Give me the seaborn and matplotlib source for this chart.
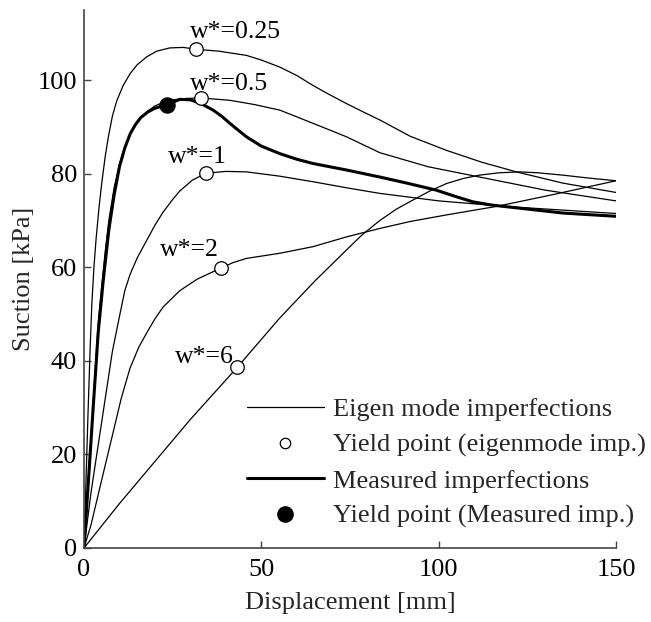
import numpy as np
import pandas as pd
import matplotlib
matplotlib.use("Agg")
import matplotlib.pyplot as plt
from matplotlib.lines import Line2D
import seaborn as sns

# ---------------- data ----------------
w025_x = [0, 1.1, 1.7, 2.2, 2.8, 3.4, 4.2, 5.0, 6.0, 6.9, 8.0, 9.2, 11.0, 13.0, 15.0, 17.7, 20.5, 24.2, 28.0, 31.7,
          38.0, 45.8, 50.0, 55.2, 60.0, 64.5, 69.0, 74.0, 78.5, 83.4, 92.0, 102.2, 112.0, 121.9, 135.0, 150.0]
w025_y = [0, 28, 42, 52, 60, 66, 72.5, 78, 83.8, 88, 92.3, 95.5, 98.8, 101.4, 103.3, 105.0, 106.2, 106.9, 107.0, 106.6,
          106.2, 105.3, 104.3, 102.8, 101.0, 98.9, 97.0, 95.0, 93.3, 91.5, 88.0, 85.0, 82.5, 80.4, 78.0, 76.0]

w05_x = [0, 1.0, 2.5, 4.0, 5.0, 6.0, 7.0, 8.5, 10.0, 11.5, 13.0, 14.5, 16.0, 18.0, 20.0, 22.5, 25.0, 29.0, 32.9,
         41.1, 48.0, 55.2, 64.5, 74.0, 83.4, 97.0, 111.5, 130.0, 150.0]
w05_y = [0, 12, 30, 48, 56, 63.5, 70, 77, 82, 85.8, 88.5, 90.5, 92, 93.4, 94.5, 95.3, 95.8, 96.1, 96.2,
         95.7, 94.8, 93.6, 90.8, 87.9, 84.5, 81.5, 79.3, 76.5, 74.2]

w1_x = [0, 2.0, 4.0, 6.0, 8.0, 10.0, 11.5, 13.0, 15.0, 17.7, 20.0, 22.3, 25.0, 27.0, 30.5, 34.3, 40.0, 45.8,
        55.0, 64.5, 74.0, 83.4, 100.0, 119.0, 150.0]
w1_y = [0, 12, 22, 32, 42, 49.5, 55, 58.5, 62, 65.8, 69, 71.8, 74.5, 76.3, 78.6, 80.1, 80.5, 80.4,
        79.5, 78.3, 77.0, 75.8, 74.2, 73.0, 71.5]

w2_x = [0, 2.0, 4.5, 8.3, 10.5, 13.0, 15.5, 17.7, 20.0, 22.3, 27.0, 32.0, 38.5, 42.0, 45.8, 55.2, 64.5, 74.0,
        83.4, 92.0, 102.2, 116.2, 132.0, 150.0]
w2_y = [0, 5, 13, 25, 32, 38.5, 43, 46, 49, 51.5, 55, 57.5, 59.8, 61.0, 61.9, 63.0, 64.4, 66.5,
        68.3, 69.8, 71.2, 73.0, 75.5, 78.5]

w6_x = [0, 10, 20, 30, 43.2, 55, 65, 74, 78.5, 83.4, 88, 92.8, 97.5, 102.2, 107, 111.5, 117, 122.8, 128, 135, 142, 150]
w6_y = [0, 9.5, 18.5, 27.5, 38.6, 49, 57, 63.7, 67.0, 70.0, 72.4, 74.4, 76.3, 77.9, 79.0, 79.7, 80.2, 80.4, 80.2, 79.7, 79.1, 78.5]

meas_x = [0, 1.0, 2.5, 4.0, 5.4, 7.0, 8.5, 10.0, 11.5, 13.0, 14.5, 16.0, 18.0, 20.0, 23.5, 27.0, 30.0, 33.0, 36.4,
          38.8, 41.1, 43.5, 45.8, 50.0, 55.2, 60.0, 64.5, 74.0, 83.4, 91.0, 99.3, 104.5, 109.6, 115.0, 120.9, 135.0, 150.0]
meas_y = [0, 11.5, 29, 46, 57, 68, 75.5, 81.5, 85.5, 88.5, 90.5, 92, 93.2, 94, 94.8, 95.9, 95.8, 95.0, 93.6,
          92.3, 90.8, 89.3, 87.9, 85.9, 84.3, 83.1, 82.2, 80.8, 79.3, 78.0, 76.5, 75.2, 74.0, 73.3, 72.8, 71.6, 70.9]

yield_labels = ["w*=0.25", "w*=0.5", "w*=1", "w*=2", "w*=6"]
yield_x = [31.7, 32.9, 34.3, 38.5, 43.2]
yield_y = [106.6, 96.2, 80.1, 59.8, 38.6]

meas_yield_x = [23.5]
meas_yield_y = [94.8]

x_ticks = [0, 50, 100, 150]
y_ticks = [0, 20, 40, 60, 80, 100]

# ---------------- style ----------------
sns.set_theme(style="ticks")
plt.rcParams["font.family"] = ["Liberation Serif", "DejaVu Serif"]

fig = plt.figure(figsize=(6.51, 6.22), dpi=100)
ax = fig.add_axes([84 / 651, 1 - 548 / 622, (616 - 84) / 651, (548 - 10) / 622])

eigen = [(w025_x, w025_y), (w05_x, w05_y), (w1_x, w1_y), (w2_x, w2_y), (w6_x, w6_y)]
for xs, ys in eigen:
    df = pd.DataFrame({"x": xs, "y": ys})
    sns.lineplot(data=df, x="x", y="y", ax=ax, color="black", lw=0.9,
                 sort=False, estimator=None)

dfm = pd.DataFrame({"x": meas_x, "y": meas_y})
sns.lineplot(data=dfm, x="x", y="y", ax=ax, color="black", lw=2.2,
             sort=False, estimator=None)

dfy = pd.DataFrame({"x": yield_x, "y": yield_y})
sns.scatterplot(data=dfy, x="x", y="y", ax=ax, s=95, facecolor="white",
                edgecolor="black", linewidth=0.9, zorder=5)
dfmy = pd.DataFrame({"x": meas_yield_x, "y": meas_yield_y})
sns.scatterplot(data=dfmy, x="x", y="y", ax=ax, s=120, color="black",
                edgecolor="black", zorder=5)

# labels for each w*
label_pos = [(29.9, 110.3), (29.9, 99.1), (23.7, 83.5), (21.4, 63.7), (25.6, 40.8)]
for lab, (lx, ly) in zip(yield_labels, label_pos):
    ax.text(lx, ly, lab, fontsize=18.5, ha="left", va="center", color="black")

ax.set_xlim(0, 150)
ax.set_ylim(0, 115)
ax.set_xticks(x_ticks)
ax.set_yticks(y_ticks)
ax.set_xticklabels([str(t) for t in x_ticks])
ax.set_yticklabels([str(t) for t in y_ticks])
ax.set_xlabel("Displacement [mm]", fontsize=19, labelpad=8)
ax.set_ylabel("Suction [kPa]", fontsize=19, labelpad=2)

sns.despine(ax=ax)
for s in ["left", "bottom"]:
    ax.spines[s].set_color("#444444")
    ax.spines[s].set_linewidth(1.2)
ax.tick_params(axis="both", direction="in", length=5, width=1.0, color="#444444",
               labelsize=19, labelcolor="black")
ax.tick_params(axis="x", pad=8)
ax.tick_params(axis="y", pad=5)

handles = [
    Line2D([], [], color="black", lw=0.9),
    Line2D([], [], color="black", lw=0, marker="o", markersize=7.5,
           markerfacecolor="white", markeredgecolor="black", markeredgewidth=0.9),
    Line2D([], [], color="black", lw=2.2),
    Line2D([], [], color="black", lw=0, marker="o", markersize=11,
           markerfacecolor="black", markeredgecolor="black"),
]
labels = ["Eigen mode imperfections", "Yield point (eigenmode imp.)",
          "Measured imperfections", "Yield point (Measured imp.)"]
ax.legend(handles, labels, loc="upper left",
          bbox_to_anchor=((247 - 84) / 532, (548 - 398) / 538),
          frameon=False, fontsize=19, handlelength=2.9, handletextpad=0.35,
          labelspacing=0.45, borderpad=0, borderaxespad=0)

fig.savefig("out.png", dpi=100)
